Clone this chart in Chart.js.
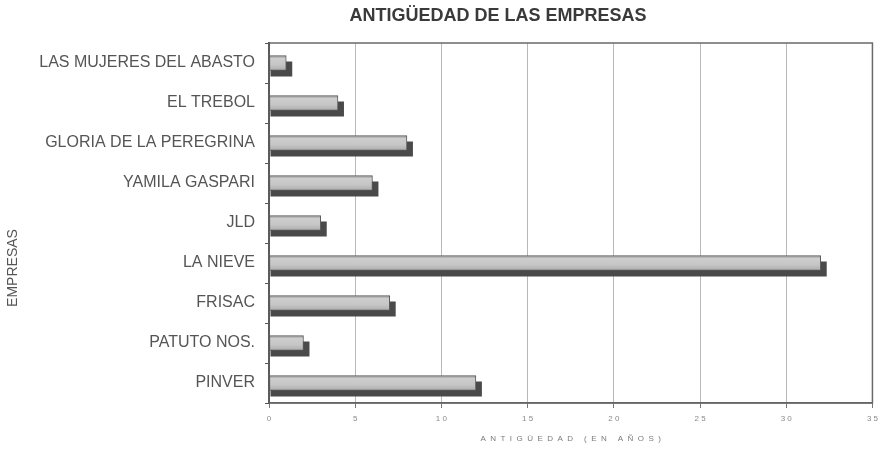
<!DOCTYPE html>
<html>
<head>
<meta charset="utf-8">
<script src="https://cdn.jsdelivr.net/npm/chart.js@4.4.0/dist/chart.umd.min.js"></script>
<style>
  html, body { margin: 0; padding: 0; background: #fff; }
  #wrap { width: 884px; height: 452px; }
</style>
</head>
<body>
<div id="wrap"><canvas id="c" width="884" height="452"></canvas></div>
<script>
const chartTitle = 'ANTIGÜEDAD DE LAS EMPRESAS';
const xAxisTitle = 'A  N  T  I  G  Ü  E  D  A  D     (  E  N     A  Ñ  O  S  )';
const yAxisTitle = 'EMPRESAS';
const categories = ['LAS MUJERES DEL ABASTO', 'EL TREBOL', 'GLORIA DE LA PEREGRINA', 'YAMILA GASPARI', 'JLD', 'LA NIEVE', 'FRISAC', 'PATUTO NOS.', 'PINVER'];
const antiguedad = [1, 4, 8, 6, 3, 32, 7, 2, 12];
const xTickValues = [0, 5, 10, 15, 20, 25, 30, 35];
const xTickLabels = ['0', '5', '1 0', '1 5', '2 0', '2 5', '3 0', '3 5'];

const shadowPlugin = {
  id: 'barShadow',
  beforeDatasetsDraw(chart) {
    const {ctx, chartArea: a} = chart;
    ctx.save();
    ctx.strokeStyle = '#6a6a6a';
    ctx.lineWidth = 1.5;
    ctx.strokeRect(a.left, a.top, a.right - a.left, a.bottom - a.top);
    ctx.fillStyle = '#4a4a4a';
    const meta = chart.getDatasetMeta(0);
    meta.data.forEach(bar => {
      const p = bar.getProps(['x', 'y', 'base', 'height'], true);
      const d = 6;
      ctx.fillRect(p.base + 1, p.y - p.height / 2 + d, p.x - p.base + d - 1, p.height);
    });
    ctx.restore();
  }
};

const titlePlugin = {
  id: 'customTitle',
  afterDraw(chart) {
    const ctx = chart.ctx;
    ctx.save();
    ctx.font = 'bold 18px "Liberation Sans", Arial, sans-serif';
    ctx.fillStyle = '#3a3a3a';
    ctx.textAlign = 'center';
    ctx.textBaseline = 'middle';
    ctx.fillText(chartTitle, 498, 16);
    ctx.translate(13, 268);
    ctx.rotate(-Math.PI / 2);
    ctx.font = '14px "Liberation Sans", Arial, sans-serif';
    ctx.fillStyle = '#555';
    ctx.fillText(yAxisTitle, 0, 0);
    ctx.restore();
  }
};

function faceGradient(context) {
  const chart = context.chart;
  if (!chart.chartArea) return '#c2c2c2';
  const y = chart.scales.y.getPixelForValue(context.dataIndex);
  const h = 15;
  const g = chart.ctx.createLinearGradient(0, y - h / 2, 0, y + h / 2);
  g.addColorStop(0, '#8a8a8a');
  g.addColorStop(0.2, '#cdcdcd');
  g.addColorStop(0.6, '#c6c6c6');
  g.addColorStop(1, '#adadad');
  return g;
}

new Chart(document.getElementById('c'), {
  type: 'bar',
  data: {
    labels: categories,
    datasets: [{
      data: antiguedad,
      backgroundColor: faceGradient,
      borderColor: '#5a5a5a',
      borderWidth: 1,
      borderSkipped: false,
      barThickness: 15
    }]
  },
  plugins: [shadowPlugin, titlePlugin],
  options: {
    indexAxis: 'y',
    responsive: false,
    animation: false,
    devicePixelRatio: 1,
    layout: { padding: { top: 43, right: 11, left: 0, bottom: 0 } },
    plugins: { legend: { display: false }, tooltip: { enabled: false }, title: { display: false } },
    scales: {
      x: {
        type: 'linear',
        min: 0, max: 35,
        afterBuildTicks(scale) { scale.ticks = xTickValues.map(v => ({ value: v })); },
        afterFit(scale) { scale.height = 49; },
        grid: { color: '#b8b8b8', lineWidth: 1, tickLength: 5, tickColor: '#777' },
        border: { display: true, color: '#555', width: 1.5 },
        ticks: {
          padding: 6,
          color: '#8a8a8a',
          font: { size: 8, family: 'Liberation Sans, Arial, sans-serif' },
          callback(value) { const i = xTickValues.indexOf(value); return i >= 0 ? xTickLabels[i] : ''; }
        },
        title: {
          display: true, text: xAxisTitle, color: '#7a7a7a',
          font: { size: 8, family: 'Liberation Sans, Arial, sans-serif' },
          padding: { top: 0, bottom: 8 }
        }
      },
      y: {
        afterFit(scale) { scale.width = 269; },
        grid: { drawOnChartArea: false, tickLength: 4, tickColor: '#555', offset: true },
        border: { display: true, color: '#333', width: 2 },
        ticks: {
          padding: 10,
          color: '#555',
          font: { size: 16, family: '"Liberation Sans", Arial, sans-serif' }
        },
        title: { display: false }
      }
    }
  }
});
</script>
</body>
</html>
